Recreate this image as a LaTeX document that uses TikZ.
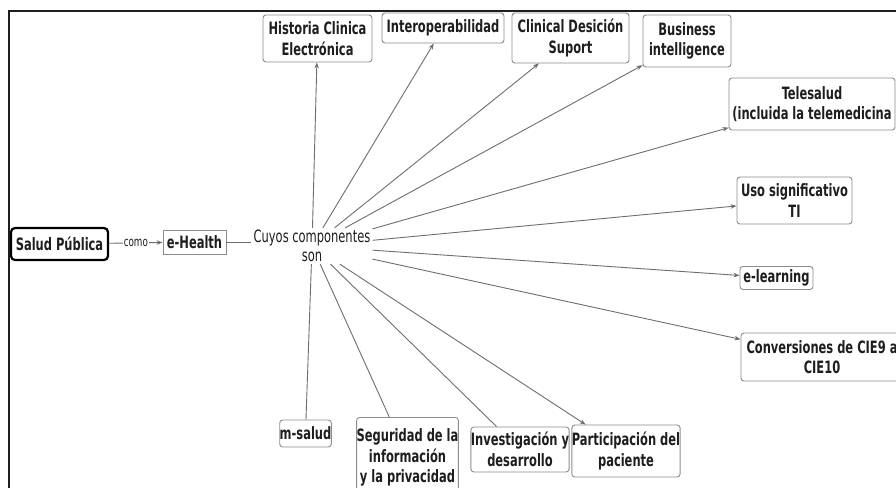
\documentclass[tikz,border=0pt]{standalone}
\usepackage{fontspec}
\newfontfamily\cond{DejaVu Sans Condensed}[FakeStretch=0.75]
\usetikzlibrary{arrows.meta}
\definecolor{boxgray}{HTML}{8C8C8C}
\definecolor{linegray}{HTML}{6E6E6E}
\definecolor{textdark}{HTML}{1E1E1E}
\begin{document}
\begin{tikzpicture}[x=1pt,y=-1pt,
  box/.style={draw=boxgray, line width=0.9pt, rounded corners=3pt, fill=white,
    align=center, text=textdark, inner sep=0pt,
    font=\cond\bfseries\fontsize{17}{20.5}\selectfont},
  conn/.style={draw=linegray, line width=0.9pt},
  arr/.style={conn, -{Stealth[length=6pt,width=4.5pt]}},
  plain/.style={text=textdark, align=center, inner sep=2pt,
    font=\cond\fontsize{17}{19}\selectfont}]
\useasboundingbox (0,0) rectangle (896,487);
\clip (0,0) rectangle (896,487);
\fill[white] (0,0) rectangle (896,487);
\draw[line width=2pt, draw=textdark] (9,500) -- (9,11) -- (900,11);

% main chain
\node[box, draw=black, line width=2.2pt, rounded corners=4pt,
  minimum width=97pt, minimum height=32pt] (salud) at (59.5,244) {Salud Pública};
\node[box, rounded corners=0pt, minimum width=63pt, minimum height=24pt] (ehealth) at (194.5,242) {e-Health};
\node[plain] (c) at (312,246) {Cuyos componentes\\son};

% top
\node[box, minimum width=109pt, minimum height=47pt] (hist) at (317.5,38.5) {Historia Clinica\\Electrónica};
\node[box, minimum width=122pt, minimum height=30pt] (inter) at (443,28) {Interoperabilidad};
\node[box, minimum width=117pt, minimum height=50pt] (clin) at (570.5,38) {Clinical Desición\\Suport};
\node[box, minimum width=88pt, minimum height=52pt] (bus) at (687,41) {Business\\intelligence};

% right
\node[box, minimum width=166pt, minimum height=52pt] (tele) at (812,104) {Telesalud\\(incluida la telemedicina};
\node[box, minimum width=115pt, minimum height=47pt] (uso) at (794.5,200.5) {Uso significativo\\TI};
\node[box, minimum width=73pt, minimum height=23pt] (elearn) at (776.5,278) {e-learning};
\node[box, minimum width=162pt, minimum height=48pt] (conv) at (822,357) {Conversiones de CIE9 a\\CIE10};

% bottom
\node[box, minimum width=49pt, minimum height=27pt] (msalud) at (305.5,433.5) {m-salud};
\node[box, minimum width=91pt, minimum height=80pt, anchor=north] (seg) at (407.5,417) {Seguridad de la\\información\\y la privacidad};
\node[box, minimum width=90pt, minimum height=45pt] (inv) at (520,449.5) {Investigación y\\desarrollo};
\node[box, minimum width=98pt, minimum height=52pt] (part) at (626,451) {Participación del\\paciente};

% connectors
\draw[arr] (salud) -- node[fill=white, inner sep=1pt, text=textdark,
  font=\cond\fontsize{13}{14}\selectfont] {como} (ehealth);
\draw[conn] (ehealth.east) -- (ehealth.east -| c.west);

\foreach \t in {hist,inter,clin,bus,tele,uso,elearn,conv,part}
  \draw[arr] (c) -- (\t);
\foreach \t in {msalud,seg,inv}
  \draw[conn] (c) -- (\t);
\end{tikzpicture}
\end{document}
